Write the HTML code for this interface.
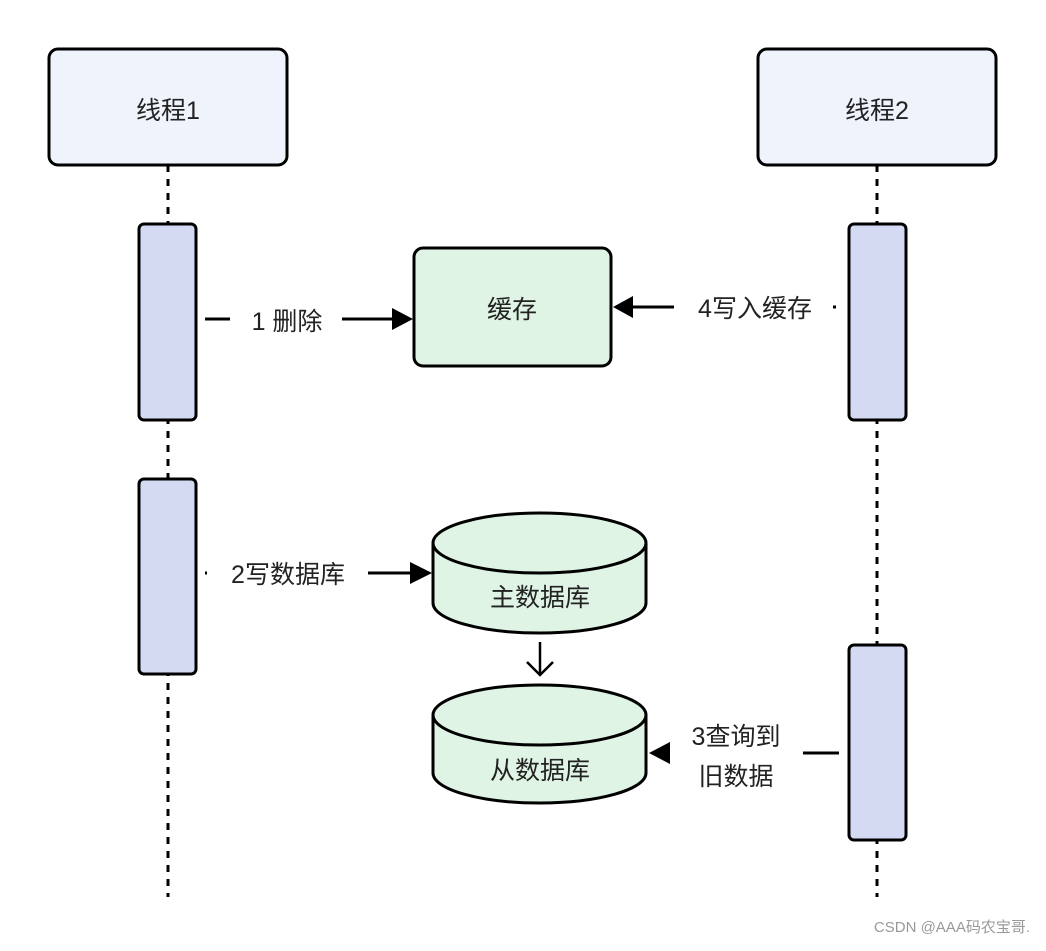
<!DOCTYPE html>
<html><head><meta charset="utf-8"><style>
body{margin:0;background:#fff}
text{font-family:"Liberation Sans","Noto Sans CJK SC",sans-serif;fill:#222}
</style></head><body>
<svg width="1046" height="946" viewBox="0 0 1046 946" xmlns="http://www.w3.org/2000/svg">
<g stroke="#000" stroke-width="3" stroke-dasharray="7,7">
<line x1="168" y1="165" x2="168" y2="897"/>
<line x1="877" y1="165" x2="877" y2="897"/>
</g>
<g stroke="#000" stroke-width="3">
<rect x="49" y="49" width="238" height="116" rx="9" fill="#eef3fc"/>
<rect x="758" y="49" width="238" height="116" rx="9" fill="#eef3fc"/>
<rect x="139" y="224" width="57" height="196" rx="5" fill="#d5daf3"/>
<rect x="139" y="479" width="57" height="195" rx="5" fill="#d5daf3"/>
<rect x="849" y="224" width="57" height="196" rx="5" fill="#d5daf3"/>
<rect x="849" y="645" width="57" height="195" rx="5" fill="#d5daf3"/>
<rect x="414" y="248" width="197" height="118" rx="9" fill="#dff4e5"/>
<path d="M433 543 V603 A106.5 30 0 0 0 646 603 V543 A106.5 30 0 0 0 433 543 Z" fill="#dff4e5"/>
<path d="M433 543 A106.5 30 0 0 0 646 543" fill="none"/>
<path d="M433 715 V773 A106.5 30 0 0 0 646 773 V715 A106.5 30 0 0 0 433 715 Z" fill="#dff4e5"/>
<path d="M433 715 A106.5 30 0 0 0 646 715" fill="none"/>
<line x1="205" y1="319" x2="230" y2="319"/>
<line x1="342" y1="319" x2="395" y2="319"/>
<line x1="632" y1="307" x2="674" y2="307"/>
<line x1="833" y1="307" x2="836" y2="307"/>
<line x1="205" y1="573" x2="207" y2="573"/>
<line x1="368" y1="573" x2="412" y2="573"/>
<line x1="803" y1="753" x2="839" y2="753"/>
<line x1="540" y1="642" x2="540" y2="674" stroke-width="2.5"/>
<polyline points="527,662 540,675 553,662" fill="none" stroke-width="2.5"/>
</g>
<g fill="#000">
<polygon points="392,308 413,319 392,330"/>
<polygon points="633,296 613,307 633,318"/>
<polygon points="410,562 432,573 410,584"/>
<polygon points="670,742 649,753 670,764"/>
</g>
<g font-size="25" text-anchor="middle">
<text x="168" y="119">线程1</text>
<text x="877" y="119">线程2</text>
<text x="512" y="318">缓存</text>
<text x="287" y="330">1 删除</text>
<text x="755" y="317">4写入缓存</text>
<text x="288" y="583">2写数据库</text>
<text x="540" y="606">主数据库</text>
<text x="540" y="779">从数据库</text>
<text x="736" y="745">3查询到</text>
<text x="736" y="785">旧数据</text>
</g>
<text x="1030" y="932" font-size="15" text-anchor="end" style="fill:#999">CSDN @AAA码农宝哥.</text>
</svg>
</body></html>
